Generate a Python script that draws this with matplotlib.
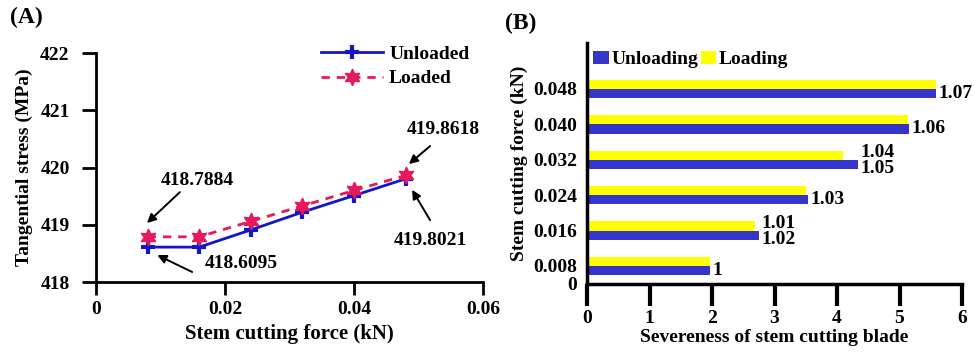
import numpy as np
import matplotlib.pyplot as plt

plt.rcParams['font.family'] = ['Liberation Serif', 'DejaVu Serif']
plt.rcParams['font.weight'] = 'bold'
plt.rcParams['font.size'] = 14

# panel A data
force = [0.008, 0.016, 0.024, 0.032, 0.040, 0.048]
stress_unloaded = [418.6095, 418.6095, 418.91, 419.22, 419.51, 419.8021]
stress_loaded = [418.7884, 418.79, 419.06, 419.33, 419.60, 419.8618]

# panel B data
force_labels = ['0.008', '0.016', '0.024', '0.032', '0.040', '0.048']
severity_unloading = [1.97, 2.75, 3.53, 4.34, 5.15, 5.59]
severity_loading = [1.97, 2.69, 3.51, 4.10, 5.14, 5.59]
ratio_loading = ['', '1.01', '', '1.04', '', '']
ratio_unloading = ['1', '1.02', '1.03', '1.05', '1.06', '1.07']

BLUE = '#1414c8'
PINK = '#e8185c'
BAR_BLUE = '#3535cc'
YELLOW = '#ffff00'

fig = plt.figure(figsize=(9.74, 3.55), dpi=100)

# ---------------- (A) ----------------
ax = fig.add_axes([0.0986, 0.2056, 0.3973, 0.6451])
ax.plot(force, stress_unloaded, color=BLUE, lw=2, marker='+', ms=10, mew=3,
        label='Unloaded')
ax.plot(force, stress_loaded, color=PINK, lw=2, ls=(0, (3, 2.5)),
        marker=(6, 1, 0), ms=12, mfc=PINK, mec=PINK, label='Loaded')
ax.set_xlim(0, 0.06)
ax.set_ylim(418, 422)
ax.set_xticks([0, 0.02, 0.04, 0.06])
ax.set_xticklabels(['0', '0.02', '0.04', '0.06'])
ax.set_yticks([418, 419, 420, 421, 422])
for s in ['top', 'right']:
    ax.spines[s].set_visible(False)
for s in ['left', 'bottom']:
    ax.spines[s].set_linewidth(2)
ax.tick_params(axis='y', direction='out', length=10, width=2, labelsize=14, pad=9)
ax.tick_params(axis='x', direction='out', length=9, width=2, labelsize=14, pad=5)
ax.set_xlabel('Stem cutting force (kN)', fontsize=15, fontweight='bold', labelpad=4)
ax.set_ylabel('Tangential stress (MPa)', fontsize=14, fontweight='bold', labelpad=5)
ax.legend(loc='upper right', bbox_to_anchor=(1.01, 1.11), frameon=False,
          handlelength=3.2, handletextpad=0.3, labelspacing=0.35, fontsize=14)

# annotation arrows: (label, arrow tail, arrow head, text centre)
arrow = dict(arrowstyle='-|>', color='black', lw=1.4, mutation_scale=13,
             shrinkA=0, shrinkB=0)
notes = [
    ('418.7884', (0.0130, 419.57), (0.0079, 419.03), (0.01566, 419.78)),
    ('418.6095', (0.0149, 418.175), (0.0095, 418.47), (0.0225, 418.33)),
    ('419.8618', (0.0518, 420.375), (0.0485, 420.06), (0.0538, 420.67)),
    ('419.8021', (0.0518, 419.08), (0.0490, 419.61), (0.0518, 418.72)),
]
for txt, tail, head, pos in notes:
    ax.annotate('', xy=head, xytext=tail, arrowprops=arrow)
    ax.text(pos[0], pos[1], txt, ha='center', va='center', fontsize=14)
fig.text(0.010, 0.95, '(A)', fontsize=17, fontweight='bold', va='center')

# ---------------- (B) ----------------
bx = fig.add_axes([0.6027, 0.2, 0.385, 0.6789])
ypos = np.arange(1, len(force_labels) + 1)
h = 0.26
bx.barh(ypos + h / 2, severity_loading, height=h, color=YELLOW, label='Loading', zorder=2)
bx.barh(ypos - h / 2, severity_unloading, height=h, color=BAR_BLUE, label='Unloading', zorder=2)
for y, wl, wu, tl, tu in zip(ypos, severity_loading, severity_unloading,
                             ratio_loading, ratio_unloading):
    xr = max(wl, wu) + 0.04
    if tl:
        bx.text(xr, y + 0.2, tl, ha='left', va='center', fontsize=14)
        bx.text(xr, y - 0.25, tu, ha='left', va='center', fontsize=14)
    else:
        bx.text(xr, y - h / 2, tu, ha='left', va='center', fontsize=14)

bx.set_xlim(0, 6)
bx.set_ylim(0.49, 7.3)
bx.set_xticks(range(7))
bx.set_yticks(np.concatenate([[0.49], ypos]))
bx.set_yticklabels(['0'] + force_labels)
for s in ['top', 'right']:
    bx.spines[s].set_visible(False)
for s in ['left', 'bottom']:
    bx.spines[s].set_linewidth(2.5)
bx.tick_params(axis='x', direction='out', length=16, width=3, labelsize=14, pad=3)
bx.tick_params(axis='y', direction='in', length=16, width=2.5, labelsize=14, pad=7)
bx.yaxis.get_major_ticks()[0].tick1line.set_visible(False)
bx.set_xlabel('Severeness of stem cutting blade', fontsize=14, fontweight='bold', labelpad=1)
bx.set_ylabel('Stem cutting force (kN)', fontsize=14, fontweight='bold', labelpad=4)
handles, labels = bx.get_legend_handles_labels()
bx.legend(handles[::-1], labels[::-1], loc='upper left', bbox_to_anchor=(-0.03, 1.04),
          ncol=2, frameon=False, handlelength=0.8, handleheight=0.7,
          handletextpad=0.15, columnspacing=0.1, fontsize=14)
fig.text(0.518, 0.935, '(B)', fontsize=17, fontweight='bold', va='center')

fig.savefig('out.png', dpi=100)
